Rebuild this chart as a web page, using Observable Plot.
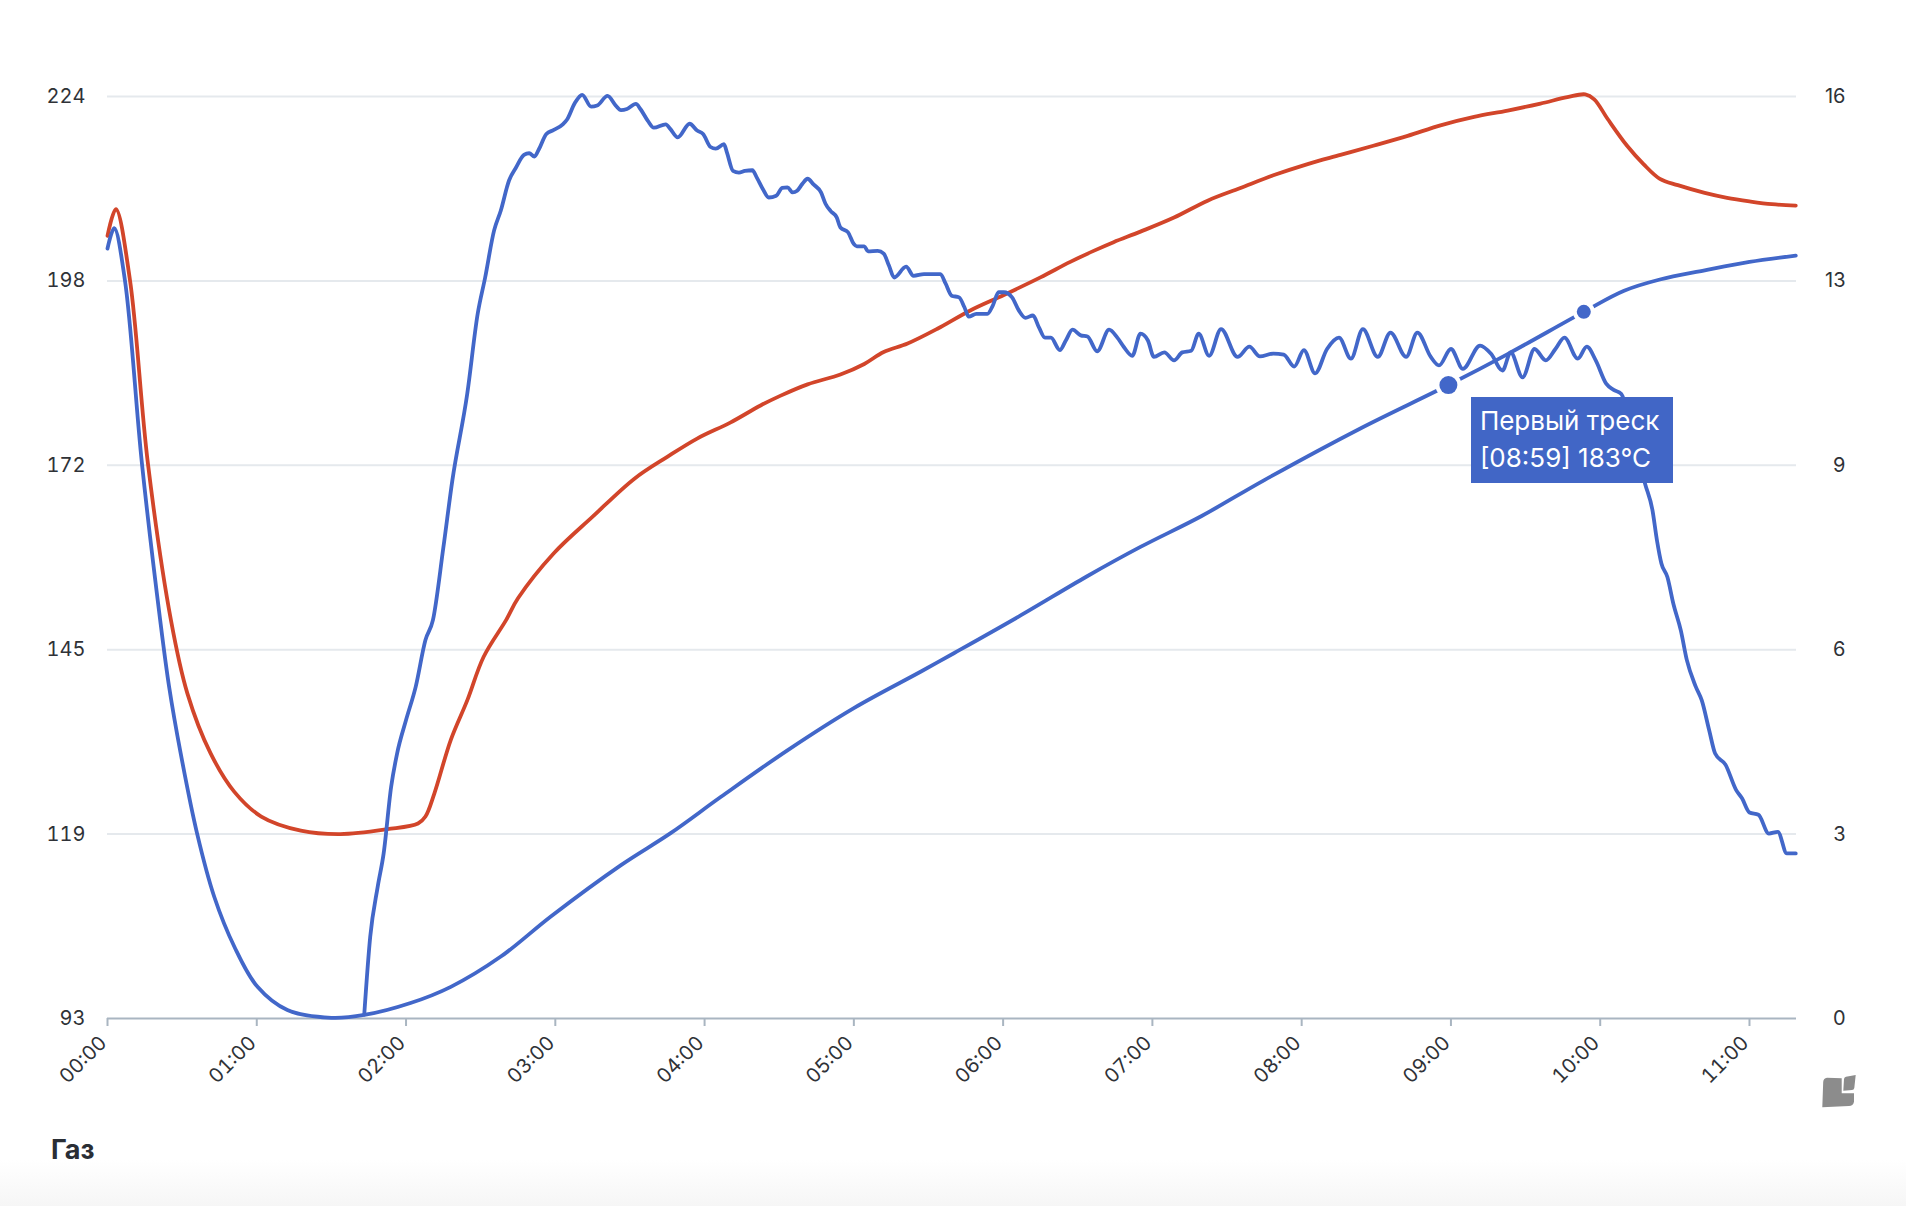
<!DOCTYPE html>
<html>
<head>
<meta charset="utf-8">
<script src="https://cdn.jsdelivr.net/npm/d3@7"></script>
<script src="https://cdn.jsdelivr.net/npm/@observablehq/plot@0.6"></script>
<style>
  html, body { margin: 0; padding: 0; background: #fff; }
  body { width: 1906px; height: 1206px; position: relative; overflow: hidden; font-family: Inter, "Noto Sans", sans-serif; }
  #chart { position: absolute; left: 0; top: 0; }
  #tip { position: absolute; background: #4166c6; color: #fff; font-size: 26px; line-height: 37px;
         padding: 5px 8px 7px 9px; width: 202px; box-sizing: border-box; white-space: nowrap; }
  #gas { position: absolute; left: 51px; top: 1136px; font-size: 27px; line-height: 27px; font-weight: 700; color: #2a2e35; }
  #band { position: absolute; left: 0; top: 1160px; width: 1906px; height: 46px; background: linear-gradient(#ffffff, #f6f6f6); }
  #logo { position: absolute; left: 0; top: 0; }
</style>
</head>
<body>
<div id="band"></div>
<div id="chart"></div>
<div id="gas">Газ</div>
<script>
// ---- tick labels ----
const xTickLabels = ["00:00","01:00","02:00","03:00","04:00","05:00","06:00","07:00","08:00","09:00","10:00","11:00"];
const leftTickLabels = [93, 119, 145, 172, 198, 224];
const rightTickLabels = [0, 3, 6, 9, 13, 16];
const yMin = 93, yMax = 224;      // left axis (°C)
const rorMax = 16.25;             // right axis top
const xMax = 11.315;              // roast length, minutes

// ---- bean temperature (minutes, °C) ----
const btTime = [0, 0.045, 0.116, 0.23, 0.353, 0.413, 0.49, 0.6, 0.715, 0.85, 1.005, 1.205, 1.5, 1.72, 2.03, 2.3, 2.635, 2.97, 3.44, 3.77, 4.11, 4.555, 5.0, 5.45, 5.67, 6.12, 6.56, 6.92, 7.33, 7.75, 8.39, 8.983, 9.38, 9.89, 10.16, 10.4, 10.7, 11.0, 11.31];
const btTemp = [202.4, 205.3, 198, 172, 149.6, 140.1, 130.7, 119.3, 110.3, 103.2, 97.5, 94.2, 93.1, 93.5, 95.2, 97.5, 101.8, 107.5, 114.8, 119.3, 124.5, 131.1, 137.1, 142.3, 144.9, 150.3, 155.8, 160.0, 164.4, 169.5, 176.8, 183.0, 187.4, 193.4, 196.4, 198.0, 199.3, 200.5, 201.4];

// ---- environment temperature (minutes, °C) ----
const etTime = [0, 0.056, 0.15, 0.27, 0.425, 0.535, 0.69, 0.85, 1.03, 1.295, 1.56, 1.875, 2.08, 2.13, 2.19, 2.3, 2.41, 2.52, 2.67, 2.75, 2.99, 3.25, 3.53, 3.75, 3.95, 4.175, 4.375, 4.51, 4.69, 4.91, 5.07, 5.2, 5.36, 5.56, 5.78, 6.005, 6.25, 6.45, 6.61, 6.74, 6.92, 7.145, 7.37, 7.59, 7.81, 8.04, 8.26, 8.48, 8.71, 8.93, 9.155, 9.38, 9.6, 9.78, 9.9, 9.96, 10.05, 10.18, 10.29, 10.4, 10.52, 10.7, 10.85, 11.0, 11.15, 11.31];
const etTemp = [204.2, 208, 198, 172, 149.6, 139.2, 130.7, 125.2, 121.7, 119.7, 119.2, 119.9, 120.7, 121.7, 125.0, 132.6, 138.2, 144.4, 149.6, 152.7, 159.1, 164.3, 169.7, 172.8, 175.4, 177.7, 180.1, 181.5, 183.1, 184.5, 186.0, 187.7, 188.9, 191.0, 193.6, 195.8, 198.3, 200.5, 202.1, 203.3, 204.8, 206.8, 209.2, 211.0, 212.8, 214.4, 215.7, 217.0, 218.4, 219.9, 221.1, 222.0, 223.0, 223.9, 224.3, 223.6, 220.8, 217.0, 214.4, 212.3, 211.4, 210.3, 209.6, 209.1, 208.7, 208.5];

// ---- rate of rise (minutes, right-axis units) ----
const rorTime = [1.72, 1.76, 1.81, 1.85, 1.9, 1.94, 2.0, 2.065, 2.13, 2.18, 2.25, 2.31, 2.41, 2.48, 2.53, 2.59, 2.635, 2.69, 2.735, 2.79, 2.825, 2.86, 2.89, 2.94, 2.99, 3.05, 3.08, 3.13, 3.18, 3.24, 3.28, 3.35, 3.405, 3.44, 3.48, 3.54, 3.57, 3.62, 3.66, 3.74, 3.77, 3.82, 3.9, 3.95, 3.99, 4.04, 4.075, 4.13, 4.15, 4.19, 4.23, 4.27, 4.32, 4.35, 4.39, 4.43, 4.48, 4.52, 4.555, 4.59, 4.62, 4.655, 4.69, 4.73, 4.78, 4.81, 4.845, 4.885, 4.91, 4.96, 5.0, 5.02, 5.07, 5.095, 5.16, 5.2, 5.235, 5.27, 5.35, 5.4, 5.47, 5.58, 5.615, 5.655, 5.705, 5.74, 5.77, 5.82, 5.895, 5.93, 5.97, 6.005, 6.06, 6.105, 6.15, 6.2, 6.24, 6.28, 6.32, 6.38, 6.42, 6.465, 6.52, 6.565, 6.63, 6.71, 6.765, 6.81, 6.865, 6.92, 6.97, 7.01, 7.08, 7.145, 7.2, 7.26, 7.31, 7.38, 7.46, 7.57, 7.65, 7.72, 7.81, 7.88, 7.95, 8.015, 8.09, 8.17, 8.25, 8.33, 8.41, 8.51, 8.595, 8.7, 8.775, 8.865, 8.92, 9.0, 9.08, 9.195, 9.27, 9.345, 9.4, 9.48, 9.56, 9.635, 9.7, 9.76, 9.85, 9.91, 9.97, 10.04, 10.09, 10.14, 10.22, 10.3, 10.35, 10.38, 10.41, 10.45, 10.49, 10.54, 10.58, 10.64, 10.68, 10.73, 10.77, 10.84, 10.91, 10.95, 11.0, 11.06, 11.13, 11.19, 11.25, 11.31];
const rorRate = [0.07, 1.44, 2.32, 2.91, 4.08, 4.67, 5.26, 5.85, 6.67, 7.02, 8.3, 9.48, 11.01, 12.42, 13.06, 13.89, 14.24, 14.77, 14.99, 15.22, 15.25, 15.19, 15.32, 15.59, 15.66, 15.76, 15.85, 16.13, 16.28, 16.07, 16.09, 16.26, 16.09, 16.01, 16.03, 16.12, 16.03, 15.82, 15.7, 15.76, 15.68, 15.53, 15.77, 15.65, 15.59, 15.36, 15.33, 15.41, 15.26, 14.94, 14.91, 14.94, 14.95, 14.82, 14.62, 14.47, 14.5, 14.64, 14.65, 14.56, 14.59, 14.71, 14.8, 14.7, 14.56, 14.36, 14.23, 14.12, 13.94, 13.86, 13.65, 13.61, 13.61, 13.52, 13.53, 13.48, 13.27, 13.06, 13.25, 13.09, 13.12, 13.12, 12.95, 12.74, 12.71, 12.54, 12.37, 12.42, 12.42, 12.56, 12.8, 12.8, 12.71, 12.48, 12.35, 12.39, 12.18, 12.0, 12.0, 11.78, 11.95, 12.14, 12.04, 12.02, 11.76, 12.14, 12.0, 11.83, 11.68, 12.07, 11.95, 11.66, 11.74, 11.6, 11.74, 11.77, 12.07, 11.68, 12.15, 11.66, 11.84, 11.67, 11.72, 11.7, 11.49, 11.78, 11.37, 11.8, 12.0, 11.63, 12.15, 11.66, 12.09, 11.66, 12.09, 11.66, 11.51, 11.8, 11.45, 11.86, 11.71, 11.42, 11.74, 11.3, 11.8, 11.6, 11.8, 12.0, 11.63, 11.84, 11.6, 11.19, 11.08, 11.01, 10.3, 9.43, 8.96, 8.43, 8.02, 7.78, 7.31, 6.84, 6.32, 5.85, 5.61, 5.08, 4.67, 4.47, 4.03, 3.88, 3.63, 3.59, 3.26, 3.29, 2.91, 2.91];

// ---- events on the bean curve ----
const eventTime = [8.983, 9.89];
const eventTemp = [183.0, 193.4];
const eventRadius = [9, 7];
const tipLines = ["Первый треск", "[08:59] 183°C"];

// ---- build tables ----
const bt = btTime.map((t, i) => ({t, v: btTemp[i]}));
const et = etTime.map((t, i) => ({t, v: etTemp[i]}));
const rorToLeft = d3.scaleLinear([0, rorMax], [yMin, yMax]);
const ror = rorTime.map((t, i) => ({t, v: rorToLeft(rorRate[i])}));
const events = eventTime.map((t, i) => ({t, v: eventTemp[i], r: eventRadius[i]}));

const yStep = (yMax - yMin) / 5;
const yTickPos = d3.range(6).map(i => yMin + i * yStep);
const idxOf = d => Math.round((d - yMin) / yStep);

const BLUE = "#4267c9", RED = "#d2452a", AXIS = "#a9b5c1", GRID = "#e5e9ed";
const LW = 3.8;

const chart = Plot.plot({
  width: 1906, height: 1110,
  marginLeft: 107, marginRight: 110, marginTop: 96, marginBottom: 92,
  x: {domain: [0, xMax]},
  y: {domain: [yMin, yMax]},
  r: {type: "identity"},
  style: {fontFamily: "Inter, 'Noto Sans', sans-serif", fontSize: "20px", color: "#2f3237", background: "transparent", overflow: "visible"},
  marks: [
    Plot.gridY(yTickPos.slice(1), {stroke: GRID, strokeOpacity: 1, strokeWidth: 2}),
    Plot.axisY({ticks: yTickPos, tickFormat: d => String(leftTickLabels[idxOf(d)]), tickSize: 0, tickPadding: 22, label: null}),
    Plot.text(yTickPos, {y: d => d, text: d => String(rightTickLabels[idxOf(d)]), frameAnchor: "right", dx: 49, textAnchor: "end", fill: "#2f3237"}),
    Plot.axisX({ticks: d3.range(12), tickSize: 8, stroke: AXIS, strokeWidth: 2, tickFormat: () => "", label: null}),
    Plot.axisX({ticks: d3.range(12), tickFormat: d => xTickLabels[d], tickRotate: -45, tickSize: 0, tickPadding: 21, dx: -4, fill: "#2f3237", label: null}),
    Plot.ruleY([yMin], {stroke: AXIS, strokeWidth: 2}),
    Plot.line(et, {x: "t", y: "v", stroke: RED, strokeWidth: LW, curve: "catmull-rom"}),
    Plot.line(ror, {x: "t", y: "v", stroke: BLUE, strokeWidth: LW, curve: "monotone-x"}),
    Plot.line(bt, {x: "t", y: "v", stroke: BLUE, strokeWidth: LW, curve: "catmull-rom"}),
    Plot.dot(events, {x: "t", y: "v", r: d => d.r + 4, fill: "white", stroke: "none"}),
    Plot.dot(events, {x: "t", y: "v", r: "r", fill: BLUE, stroke: "none"})
  ]
});
document.getElementById("chart").appendChild(chart);

// tooltip anchored to the first-crack event via the chart's scales
const sx = chart.scale("x"), sy = chart.scale("y");
const tip = document.createElement("div");
tip.id = "tip";
tip.innerHTML = tipLines.map(s => `<div>${s}</div>`).join("");
tip.style.left = (sx.apply(eventTime[0]) + 23) + "px";
tip.style.top = (sy.apply(eventTemp[0]) + 12) + "px";
document.body.appendChild(tip);

// small brand mark, bottom right
const ns = "http://www.w3.org/2000/svg";
const logo = document.createElementNS(ns, "svg");
logo.setAttribute("id", "logo");
logo.setAttribute("width", 1906);
logo.setAttribute("height", 1206);
logo.innerHTML = `
  <path d="M1827,1077.7 L1841.7,1078.3 L1841.7,1093.3 L1854,1093.3 L1854,1101.7 Q1853,1106 1849,1106 L1822.3,1107.3 L1823.2,1082 Q1823.5,1078 1827,1077.7 Z" fill="#8c8c8c"/>
  <path d="M1846,1076.7 L1855.7,1075 L1854.3,1088 Q1854,1090 1852,1090 L1843.3,1090.7 L1844,1079 Q1844.3,1077 1846,1076.7 Z" fill="#8c8c8c"/>`;
document.body.appendChild(logo);
</script>
</body>
</html>
